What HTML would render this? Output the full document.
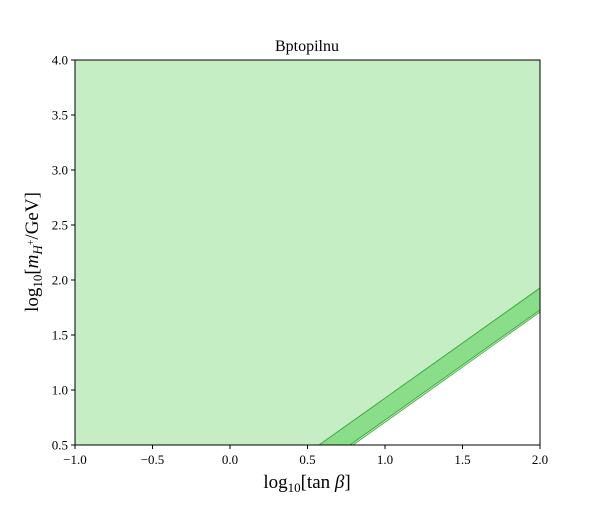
<!DOCTYPE html>
<html><head><meta charset="utf-8"><style>
body{margin:0;background:#fff;}
svg text{font-family:"Liberation Serif",serif;fill:#000;}
</style></head><body>
<svg id="chart" width="600" height="500">
<text x="307" y="51" font-size="16" text-anchor="middle">Bptopilnu</text>
<g id="plot"></g>
<text x="307" y="488" font-size="19" text-anchor="middle">log<tspan font-size="13" dy="4">10</tspan><tspan dy="-4">[tan </tspan><tspan font-style="italic">β</tspan>]</text>
<text transform="translate(38,252) rotate(-90)" font-size="19" text-anchor="middle">log<tspan font-size="13" dy="4">10</tspan><tspan dy="-4">[</tspan><tspan font-style="italic">m</tspan><tspan font-size="13" dy="4" font-style="italic">H</tspan><tspan font-size="10" dy="-8">+</tspan><tspan dy="4">/GeV]</tspan></text>
</svg>
<script>
const xTicks=[-1.0,-0.5,0.0,0.5,1.0,1.5,2.0];
const yTicks=[0.5,1.0,1.5,2.0,2.5,3.0,3.5,4.0];
const xTickLabels=["−1.0","−0.5","0.0","0.5","1.0","1.5","2.0"];
const yTickLabels=["0.5","1.0","1.5","2.0","2.5","3.0","3.5","4.0"];
const upperBoundX=[0.574,2.0];
const upperBoundY=[0.5,1.927];
const lowerBoundX=[0.774,2.0];
const lowerBoundY=[0.5,1.727];
const edgeBoundX=[0.794,2.0];
const edgeBoundY=[0.5,1.709];
const X0=75,X1=540,Y0=445,Y1=60;
const sx=v=>X0+(v+1)/3*(X1-X0);
const sy=v=>Y0-(v-0.5)/3.5*(Y0-Y1);
const NS="http://www.w3.org/2000/svg";
const g=document.getElementById('plot');
function mk(t,a){const e=document.createElementNS(NS,t);for(const k in a)e.setAttribute(k,a[k]);g.appendChild(e);return e;}
function pts(xs,ys){return xs.map((x,i)=>sx(x)+','+sy(ys[i]));}
let p=mk('polygon',{points:[sx(-1)+','+sy(4),sx(2)+','+sy(4),...pts(upperBoundX,upperBoundY).reverse(),sx(-1)+','+sy(0.5)].join(' '),fill:'#c5eec5'});


let b=mk('polygon',{points:[...pts(upperBoundX,upperBoundY),...pts(lowerBoundX,lowerBoundY).reverse()].join(' '),fill:'#8ade8a',stroke:'#3daa3d','stroke-width':1});


let s=mk('polygon',{points:[...pts(lowerBoundX,lowerBoundY),...pts(edgeBoundX,edgeBoundY).reverse()].join(' '),fill:'#c5eec5',stroke:'#3daa3d','stroke-width':0.8});


let fr=mk('rect',{x:X0,y:Y1,width:X1-X0,height:Y0-Y1,fill:'none',stroke:'#000','stroke-width':1});


xTicks.forEach((v,i)=>{
 mk('line',{x1:sx(v),x2:sx(v),y1:Y0,y2:Y0+4,stroke:'#000'});
 let t=mk('text',{x:sx(v),y:Y0+19,'font-size':13,'text-anchor':'middle'});t.textContent=xTickLabels[i];
 
 
});
yTicks.forEach((v,i)=>{
 mk('line',{x1:X0-4,x2:X0,y1:sy(v),y2:sy(v),stroke:'#000'});
 let t=mk('text',{x:X0-7,y:sy(v)+4.5,'font-size':13,'text-anchor':'end'});t.textContent=yTickLabels[i];
 
 
});
</script>
</body></html>
